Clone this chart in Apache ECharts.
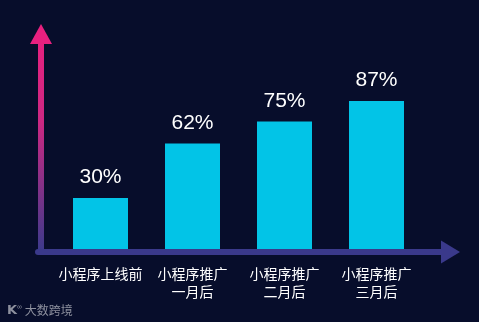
<!DOCTYPE html>
<html>
<head>
<meta charset="utf-8">
<script src="https://cdn.jsdelivr.net/npm/echarts@6/dist/echarts.min.js"></script>
<style>
html,body{margin:0;padding:0;background:#070d2b;}
#c{width:479px;height:322px;}
</style>
</head>
<body>
<div id="c"></div>
<script>
var categories = ['小程序上线前', '小程序推广\n一月后', '小程序推广\n二月后', '小程序推广\n三月后'];
var values = [30, 62, 75, 87];
var valueLabels = ['30%', '62%', '75%', '87%'];

var chart = echarts.init(document.getElementById('c'), null, {renderer: 'canvas'});
chart.setOption({
  backgroundColor: '#070d2b',
  animation: false,
  grid: [
    {left: 54.5, width: 368, top: 79, bottom: 73},
    {left: 38, right: 28.5, top: 34, bottom: 70}
  ],
  xAxis: [
    {
      type: 'category', gridIndex: 0, data: categories,
      axisLine: {show: false}, axisTick: {show: false},
      axisLabel: {color: '#ffffff', fontSize: 14, lineHeight: 18, margin: 16, interval: 0,
        fontFamily: 'Noto Sans CJK SC'}
    },
    {
      type: 'value', gridIndex: 1, min: 0, max: 1,
      splitLine: {show: false}, axisTick: {show: false}, axisLabel: {show: false},
      axisLine: {show: true, symbol: ['none', 'triangle'], symbolSize: [23, 19],
        lineStyle: {color: '#3a398b', width: 6}}
    }
  ],
  yAxis: [
    {
      type: 'value', gridIndex: 0, min: 0, max: 100, show: false
    },
    {
      type: 'value', gridIndex: 1, min: 0, max: 1, offset: -3,
      splitLine: {show: false}, axisTick: {show: false}, axisLabel: {show: false},
      axisLine: {show: true, symbol: ['none', 'triangle'], symbolSize: [22, 20],
        lineStyle: {width: 6, color: {
          type: 'linear', x: 0, y: 34, x2: 0, y2: 252, global: true,
          colorStops: [
            {offset: 0, color: '#e8207f'},
            {offset: 0.4, color: '#cc2883'},
            {offset: 1, color: '#3b3a8c'}
          ]
        }}}
    }
  ],
  graphic: [
    {
      type: 'text', left: 7, top: 304,
      style: {
        text: '{k|K}{s|∞} 大数跨境',
        rich: {
          k: {fontSize: 13, fontWeight: 'bold', fill: '#8d909e', fontFamily: 'DejaVu Sans'},
          s: {fontSize: 7, fill: '#8d909e', verticalAlign: 'top', padding: [0, 0, 6, 0]}
        },
        fontSize: 12, fill: '#8d909e', fontFamily: 'Noto Sans CJK SC'
      }
    }
  ],
  series: [
    {
      type: 'bar', xAxisIndex: 0, yAxisIndex: 0,
      data: values, barWidth: 55,
      itemStyle: {color: '#02c4e7'},
      label: {
        show: true, position: 'top', distance: 10,
        color: '#ffffff', fontSize: 21, fontFamily: 'Liberation Sans, Arial',
        formatter: function (p) { return valueLabels[p.dataIndex]; }
      }
    }
  ]
});
</script>
</body>
</html>
